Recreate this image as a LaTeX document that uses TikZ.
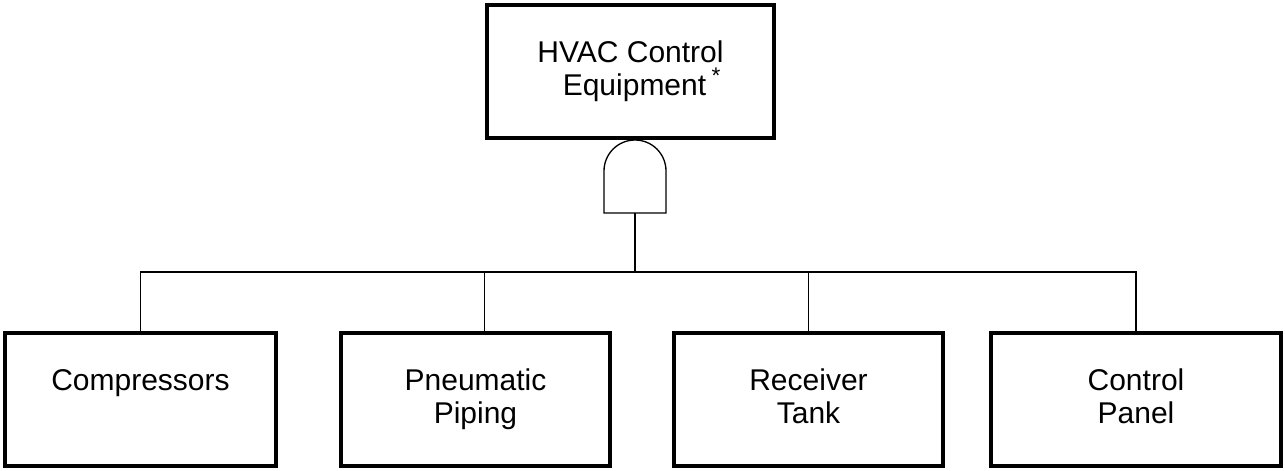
\documentclass[tikz,border=0pt]{standalone}
\usepackage{fontspec}
\setmainfont{Liberation Sans}
\usetikzlibrary{positioning}

\begin{document}
\begin{tikzpicture}[
    x=0.75pt, y=-0.75pt,
    event/.style={draw, line width=2.6pt, minimum height=99.75pt, align=center,
      inner sep=0pt, font=\fontsize{22.5}{24.75}\selectfont},
    wire/.style={line width=0.8pt},
    gate/.style={draw, line width=1pt}
  ]
  \useasboundingbox (0,0) rectangle (1285,471);

  % Top event
  \node[event, minimum width=215.25pt] (hvac) at (630.5,71.5)
    {HVAC Control\\\kern6pt Equipment\rlap{\kern4pt\raisebox{9pt}{\fontsize{17}{17}\selectfont*}}};

  % AND gate
  \draw[gate] (604,213) -- (604,171) arc[start angle=180, end angle=360, radius=31]
    -- (666,213) -- cycle;
  \coordinate (gate out) at (635,213);
  \coordinate (bus) at (635,272);

  % Basic events
  \node[event, minimum width=203.25pt] (comp) at (140.5,399.5) {Compressors\\\phantom{Piping}};
  \node[event, minimum width=201.75pt] (pipe) at (475.5,399.5) {Pneumatic\\Piping};
  \node[event, minimum width=201.75pt] (tank) at (808.5,399.5) {Receiver\\Tank\vphantom{g}};
  \node[event, minimum width=217.5pt]  (panel) at (1136,399.5) {Control\\Panel\vphantom{g}};

  % Connectors
  \draw[wire] (gate out) -- (bus);
  \draw[wire] (comp.north) |- (bus) -| (panel.north);
  \draw[wire] ([xshift=6.4pt]pipe.north) -- ([xshift=6.4pt]pipe.north |- bus);
  \draw[wire] (tank.north) -- (tank.north |- bus);
\end{tikzpicture}
\end{document}
